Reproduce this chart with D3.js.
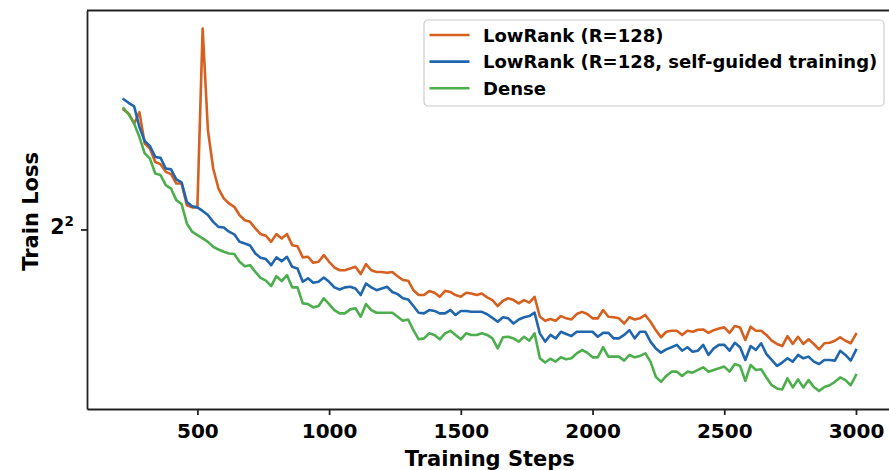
<!DOCTYPE html>
<html>
<head>
<meta charset="utf-8">
<script src="https://cdn.jsdelivr.net/npm/d3@7"></script>
<style>
    body { margin: 0; background: #fff; }
    text { font-family: "DejaVu Sans", sans-serif; font-weight: bold; fill: #000; }
</style>
</head>
<body>
<div id="chart"></div>
<script>
// training steps (evaluated every 20 steps)
var steps = d3.range(220, 3001, 20);

var lowRank = [
    4.640, 4.617, 4.560, 4.626, 4.449, 4.422, 4.349, 4.337, 4.296, 4.284, 4.234, 4.234, 4.122, 4.111, 4.111,
    5.130, 4.523, 4.314, 4.208, 4.157, 4.131, 4.114, 4.072, 4.046, 4.038, 4.005, 3.977, 3.969, 3.939, 3.977,
    3.956, 3.977, 3.923, 3.918, 3.864, 3.867, 3.838, 3.843, 3.875, 3.843,
    3.816, 3.803, 3.803, 3.811, 3.819, 3.785, 3.832, 3.803, 3.795, 3.795, 3.791, 3.795, 3.775, 3.757, 3.754,
    3.710, 3.688, 3.688, 3.706, 3.698, 3.680, 3.707, 3.702, 3.688, 3.680,
    3.698, 3.695, 3.688, 3.695, 3.677, 3.665, 3.638, 3.662, 3.673, 3.665, 3.650, 3.665, 3.653, 3.680, 3.590,
    3.572, 3.580, 3.572, 3.593, 3.583, 3.578, 3.602, 3.612, 3.602, 3.583,
    3.583, 3.620, 3.590, 3.588, 3.583, 3.560, 3.588, 3.578, 3.583, 3.598, 3.568, 3.531, 3.500, 3.524, 3.528,
    3.528, 3.510, 3.528, 3.524, 3.533, 3.534, 3.519, 3.531, 3.538, 3.543,
    3.519, 3.549, 3.543, 3.488, 3.546, 3.528, 3.528, 3.510, 3.485, 3.471, 3.462, 3.505, 3.471, 3.502, 3.471,
    3.491, 3.471, 3.448, 3.474, 3.476, 3.485, 3.500, 3.485, 3.474, 3.514
];

var selfGuided = [
    4.700, 4.678, 4.659, 4.541, 4.463, 4.435, 4.376, 4.371, 4.314, 4.309, 4.256, 4.240, 4.139, 4.117, 4.111,
    4.093, 4.072, 4.038, 4.013, 4.010, 3.989, 3.976, 3.939, 3.931, 3.921, 3.883, 3.862, 3.856, 3.827, 3.864,
    3.846, 3.867, 3.819, 3.811, 3.749, 3.765, 3.744, 3.749, 3.769, 3.749,
    3.723, 3.713, 3.723, 3.726, 3.718, 3.688, 3.741, 3.723, 3.710, 3.718, 3.726, 3.702, 3.692, 3.673, 3.668,
    3.638, 3.608, 3.605, 3.620, 3.616, 3.605, 3.605, 3.620, 3.598, 3.616,
    3.616, 3.612, 3.612, 3.612, 3.601, 3.585, 3.568, 3.588, 3.583, 3.560, 3.578, 3.588, 3.593, 3.608, 3.517,
    3.481, 3.510, 3.495, 3.524, 3.514, 3.505, 3.524, 3.524, 3.524, 3.524,
    3.502, 3.519, 3.519, 3.495, 3.495, 3.510, 3.531, 3.495, 3.524, 3.524, 3.481, 3.452, 3.434, 3.448, 3.457,
    3.467, 3.442, 3.457, 3.438, 3.442, 3.467, 3.424, 3.452, 3.467, 3.467,
    3.442, 3.476, 3.457, 3.403, 3.462, 3.445, 3.474, 3.428, 3.403, 3.378, 3.392, 3.410, 3.396, 3.424, 3.410,
    3.417, 3.396, 3.386, 3.403, 3.403, 3.400, 3.442, 3.424, 3.400, 3.445
];

var dense = [
    4.648, 4.611, 4.560, 4.485, 4.395, 4.367, 4.287, 4.279, 4.226, 4.208, 4.148, 4.128, 4.030, 3.989, 3.972,
    3.956, 3.939, 3.915, 3.902, 3.891, 3.883, 3.880, 3.843, 3.822, 3.827, 3.795, 3.767, 3.754, 3.729, 3.775,
    3.752, 3.780, 3.723, 3.723, 3.650, 3.647, 3.632, 3.638, 3.673, 3.647,
    3.620, 3.605, 3.605, 3.623, 3.628, 3.590, 3.647, 3.620, 3.608, 3.608, 3.608, 3.608, 3.590, 3.572, 3.578,
    3.531, 3.491, 3.495, 3.517, 3.510, 3.491, 3.517, 3.528, 3.510, 3.491,
    3.517, 3.510, 3.510, 3.517, 3.510, 3.495, 3.452, 3.500, 3.502, 3.495, 3.481, 3.502, 3.485, 3.517, 3.410,
    3.392, 3.408, 3.396, 3.414, 3.406, 3.410, 3.431, 3.445, 3.434, 3.414,
    3.414, 3.457, 3.417, 3.417, 3.417, 3.400, 3.424, 3.414, 3.420, 3.431, 3.396, 3.333, 3.312, 3.336, 3.354,
    3.354, 3.336, 3.354, 3.350, 3.361, 3.372, 3.354, 3.361, 3.368, 3.375,
    3.354, 3.386, 3.378, 3.316, 3.382, 3.361, 3.364, 3.330, 3.298, 3.285, 3.281, 3.326, 3.289, 3.322, 3.289,
    3.319, 3.291, 3.275, 3.291, 3.298, 3.312, 3.330, 3.319, 3.298, 3.340
];

var seriesNames = ["LowRank (R=128)", "LowRank (R=128, self-guided training)", "Dense"];
var seriesColors = ["#d5601f", "#1f66ae", "#4cae4c"];
var xTicks = [500, 1000, 1500, 2000, 2500, 3000];
var yTicks = [4];

var width = 889,
    height = 470,
    margin = {top: 10.5, right: -3.6, bottom: 61, left: 87},
    plotW = width - margin.left - margin.right,
    plotH = height - margin.top - margin.bottom;

var series = seriesNames.map(function (name, i) {
    var vals = [lowRank, selfGuided, dense][i];
    return {
        name: name,
        color: seriesColors[i],
        values: steps.map(function (s, j) { return {x: s, y: vals[j]}; })
    };
});

// matplotlib-like 5% margins
var xExt = d3.extent(steps),
    xPad = (xExt[1] - xExt[0]) * 0.05;
var allY = lowRank.concat(selfGuided, dense),
    lo = Math.log2(d3.min(allY)),
    hi = Math.log2(d3.max(allY)),
    yPad = (hi - lo) * 0.05;

var x = d3.scaleLinear()
    .domain([xExt[0] - xPad, xExt[1] + xPad])
    .range([0, plotW]);

var y = d3.scaleLog()
    .base(2)
    .domain([Math.pow(2, lo - yPad), Math.pow(2, hi + yPad)])
    .range([plotH, 0]);

var svg = d3.select("#chart").append("svg")
    .attr("width", width)
    .attr("height", height);

var chart = svg.append("g")
    .attr("transform", "translate(" + margin.left + "," + margin.top + ")");

var line = d3.line()
    .x(function (d) { return x(d.x); })
    .y(function (d) { return y(d.y); });

chart.selectAll(".series")
    .data(series)
    .enter().append("path")
    .attr("class", "series")
    .attr("d", function (d) { return line(d.values); })
    .style("fill", "none")
    .style("stroke", function (d) { return d.color; })
    .style("stroke-width", 2.6)
    .style("stroke-linejoin", "round")
    .style("stroke-linecap", "square");

// axes
var xAxis = chart.append("g")
    .attr("class", "x axis")
    .attr("transform", "translate(0," + plotH + ")")
    .call(d3.axisBottom(x).tickValues(xTicks).tickFormat(d3.format("d"))
        .tickSize(6).tickPadding(9).tickSizeOuter(0));

var yAxis = chart.append("g")
    .attr("class", "y axis")
    .call(d3.axisLeft(y).tickValues(yTicks).tickSize(6).tickPadding(7).tickSizeOuter(0).tickFormat(""));

xAxis.selectAll("text").style("font-size", "20px");

yAxis.selectAll(".tick").append("text")
    .attr("x", -13)
    .attr("dy", "0.36em")
    .style("text-anchor", "end")
    .each(function (d) {
        var t = d3.select(this);
        t.append("tspan").style("font-size", "20.5px").text(2);
        t.append("tspan").attr("dy", -7.3).style("font-size", "13.5px").text(Math.log2(d));
    });

chart.selectAll(".axis path, .axis line")
    .style("stroke", "#222")
    .style("stroke-width", 1.8);

// top and right spines
chart.append("line")
    .attr("x1", 0).attr("x2", plotW)
    .attr("y1", 0).attr("y2", 0)
    .style("stroke", "#222").style("stroke-width", 1.8);
chart.append("line")
    .attr("x1", plotW).attr("x2", plotW)
    .attr("y1", 0).attr("y2", plotH)
    .style("stroke", "#222").style("stroke-width", 1.8);

// axis titles
svg.append("text")
    .attr("x", margin.left + plotW / 2)
    .attr("y", 466)
    .style("text-anchor", "middle")
    .style("font-size", "21px")
    .text("Training Steps");

svg.append("text")
    .attr("transform", "translate(38," + (margin.top + y(4) - 18) + ") rotate(-90)")
    .style("text-anchor", "middle")
    .style("font-size", "21px")
    .text("Train Loss");

// legend
var legend = svg.append("g")
    .attr("transform", "translate(424,20)");

legend.append("rect")
    .attr("width", 460)
    .attr("height", 86)
    .attr("rx", 4)
    .style("fill", "#fff")
    .style("fill-opacity", 0.8)
    .style("stroke", "#cccccc")
    .style("stroke-width", 1.2);

var item = legend.selectAll(".item")
    .data(series)
    .enter().append("g")
    .attr("class", "item")
    .attr("transform", function (d, i) { return "translate(0," + (15 + i * 26.6) + ")"; });

item.append("line")
    .attr("x1", 5.5).attr("x2", 45.5)
    .style("stroke", function (d) { return d.color; })
    .style("stroke-width", 2.6);

item.append("text")
    .attr("x", 59)
    .attr("y", 6.5)
    .style("font-size", "18px")
    .text(function (d) { return d.name; });
</script>
</body>
</html>
